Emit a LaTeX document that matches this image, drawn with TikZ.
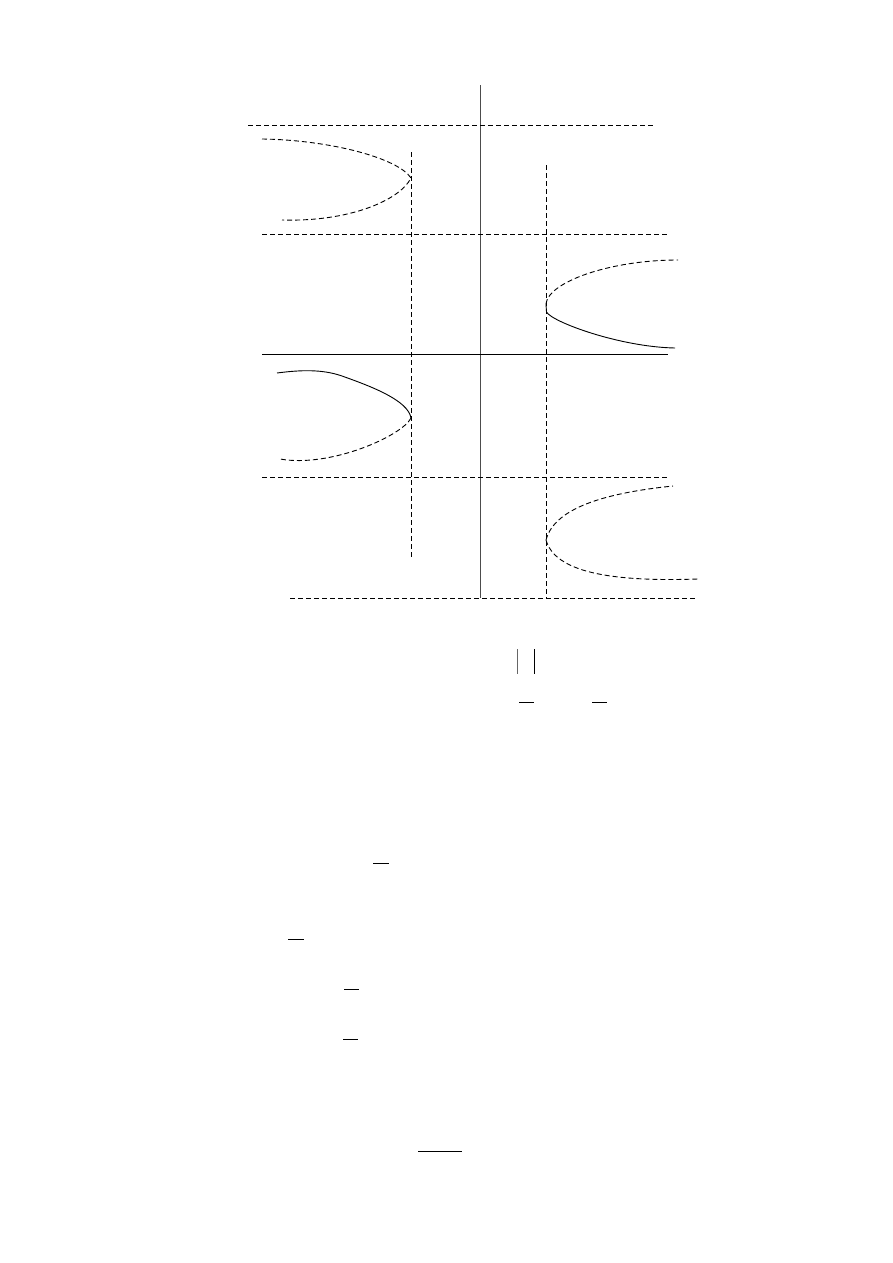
\documentclass[tikz,border=0pt]{standalone}
\begin{document}
\begin{tikzpicture}[x=1pt,y=-1pt,
  ln/.style={line width=0.9pt,black},
  dsh/.style={line width=0.9pt,black,dash pattern=on 5pt off 3pt},
  bar/.style={line width=0.9pt,black}]
\useasboundingbox (0,0) rectangle (893,1263);
% axes
\coordinate (vt) at (480,85); \coordinate (vb) at (480,598);
\draw[ln,black!70] (vt) -- (vb);
\coordinate (hl) at (262,354); \coordinate (hr) at (668,354);
\draw[ln] (hl) -- (hr);
% dashed horizontal asymptotes
\draw[dsh] (248,125) -- (655,125);
\draw[dsh] (262,234) -- (668,234);
\draw[dsh] (262,477) -- (668,477);
\draw[dsh] (290,598) -- (696,598);
% dashed vertical asymptotes
\draw[dsh] (411,152) -- (411,558);
\draw[dsh] (546,165) -- (546,598);
% top-left curve (dashed)
\draw[dsh] (262,139) .. controls (330,140) and (398,158) .. (411,178)
  .. controls (400,200) and (350,222) .. (282,220);
% right upper curve
\draw[dsh] (546,304) .. controls (548,282) and (610,260) .. (678,260);
\draw[ln] (546,304) -- (546.5,312) .. controls (552,322) and (620,347) .. (675,348);
% left middle curve
\draw[ln] (277,373) .. controls (300,370) and (322,369) .. (342,376)
  .. controls (370,386) and (408,400) .. (411,418);
\draw[dsh] (411,418) .. controls (402,436) and (330,468) .. (280,459);
% right lower curve
\draw[dsh] (546,540) .. controls (555,505) and (615,492) .. (673,486);
\draw[dsh] (546,540) .. controls (555,572) and (610,582) .. (698,579);
% small fragments below
\draw[bar,black!60] (517.5,649) -- (517.5,674);
\draw[bar] (534,649) -- (534,674);
\draw[bar] (519,702) -- (534,702);
\draw[bar] (592,702) -- (607,702);
\draw[bar] (373,863) -- (389,863);
\draw[bar] (288,939) -- (304,939);
\draw[bar] (344,989) -- (359,989);
\draw[bar] (343,1039) -- (358,1039);
\draw[bar] (418,1151) -- (462,1151);
\end{tikzpicture}
\end{document}
